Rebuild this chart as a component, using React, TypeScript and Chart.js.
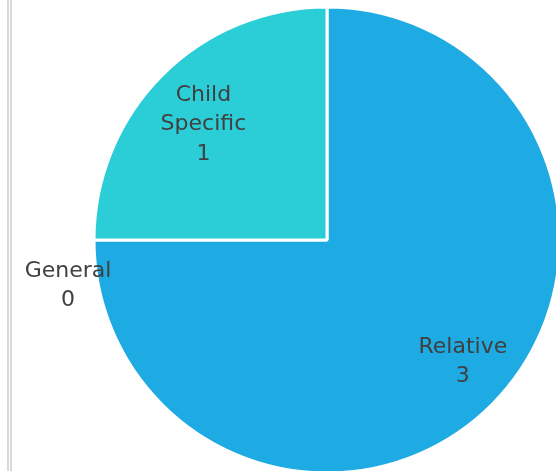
import React, { useEffect, useRef } from "react";
import { Chart, registerables } from "chart.js";

Chart.register(...registerables);

const categories = ["Relative", "General", "Child Specific"];
const labelLines = [["Relative"], ["General"], ["Child", "Specific"]];
const values = [3, 0, 1];
const colors = ["#1EAAE2", "#2BCDD6", "#2BCDD6"];

const labelPlugin = {
  id: "sliceLabels",
  afterDraw(chart: any) {
    const meta = chart.getDatasetMeta(0);
    const ctx = chart.ctx;
    const opts = chart.options.plugins.sliceLabels;
    ctx.save();
    ctx.font = opts.font;
    ctx.fillStyle = opts.color;
    ctx.textAlign = "center";
    ctx.textBaseline = "middle";
    meta.data.forEach((arc: any, i: number) => {
      const { x, y, startAngle, endAngle, outerRadius } = arc.getProps(
        ["x", "y", "startAngle", "endAngle", "outerRadius"],
        true
      );
      const mid = (startAngle + endAngle) / 2;
      const frac = opts.fractions[i];
      const off = opts.offsets[i];
      const lx = x + Math.cos(mid) * outerRadius * frac + off[0];
      const ly = y + Math.sin(mid) * outerRadius * frac + off[1];
      const lines = [...labelLines[i], String(values[i])];
      const lh = opts.lineHeight;
      const top = ly - ((lines.length - 1) * lh) / 2;
      lines.forEach((t, k) => ctx.fillText(t, lx, top + k * lh));
    });
    ctx.restore();
  },
};

export default function App() {
  const ref = useRef<HTMLCanvasElement>(null);
  useEffect(() => {
    const chart = new Chart(ref.current!, {
      type: "pie",
      data: {
        labels: categories,
        datasets: [
          {
            data: values,
            backgroundColor: colors,
            borderColor: "#ffffff",
            borderWidth: 3,
          },
        ],
      },
      options: {
        responsive: false,
        animation: false,
        radius: 233,
        layout: { padding: 0 },
        plugins: {
          legend: { display: false },
          tooltip: { enabled: false },
          sliceLabels: {
            font: '22px "DejaVu Sans"',
            color: "#404040",
            lineHeight: 29.5,
            fractions: [0.77, 1.12, 0.75],
            offsets: [
              [9, -5],
              [2, 46],
              [0, 8],
            ],
          },
        } as any,
      },
      plugins: [labelPlugin],
    });
    return () => chart.destroy();
  }, []);
  return (
    <div
      style={{
        position: "fixed",
        left: 0,
        top: 0,
        width: 556,
        height: 471,
        overflow: "hidden",
        background: "#fff",
      }}
    >
      <div style={{ position: "absolute", left: 7, top: 0, width: 2, height: 471, background: "#d9d9d9" }} />
      <div style={{ position: "absolute", left: 10, top: 0, width: 2, height: 471, background: "#d9d9d9" }} />
      <canvas
        ref={ref}
        width={654}
        height={480}
        style={{ position: "absolute", left: 0, top: 0, width: 654, height: 480 }}
      />
    </div>
  );
}
